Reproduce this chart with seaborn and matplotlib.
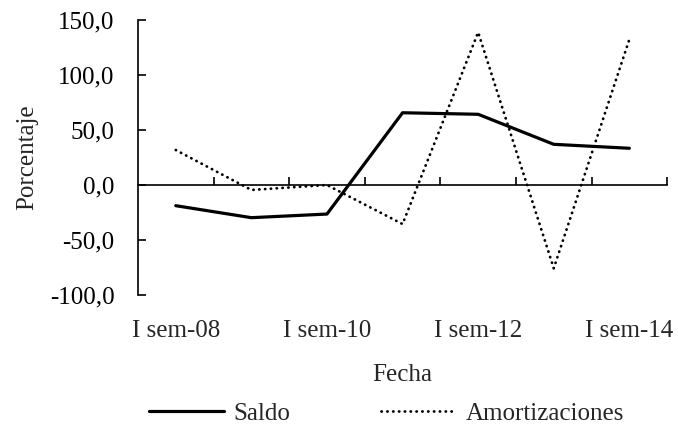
import matplotlib
matplotlib.use("Agg")
import matplotlib.pyplot as plt
import pandas as pd
import seaborn as sns

# Semestres (uno por año), se rotulan uno de cada dos
categories = ["I sem-08", "I sem-09", "I sem-10", "I sem-11", "I sem-12", "I sem-13", "I sem-14"]
saldo = [-18.8, -29.7, -26.4, 65.7, 64.3, 37.0, 33.4]
amortizaciones = [31.8, -4.5, 0.0, -35.5, 138.8, -75.7, 132.4]
y_ticks = [-100, -50, 0, 50, 100, 150]
y_tick_labels = ["-100,0", "-50,0", "0,0", "50,0", "100,0", "150,0"]

sns.set_theme(style="white")
plt.rcParams["font.family"] = ["Liberation Serif", "DejaVu Serif"]
FS = 18

df = pd.DataFrame({"pos": range(len(categories)), "Saldo": saldo, "Amortizaciones": amortizaciones})

fig = plt.figure(figsize=(6.78, 4.26), dpi=100)
ax = fig.add_axes([0.2035, 0.3075, 0.7805, 0.6455])

sns.lineplot(data=df, x="pos", y="Saldo", ax=ax, color="black", linewidth=2.3, label="Saldo")
sns.lineplot(data=df, x="pos", y="Amortizaciones", ax=ax, color="black", linewidth=2.0,
             linestyle=(0, (0.1, 2.0)), dash_capstyle="round", label="Amortizaciones")

n = len(categories)
ax.set_xlim(-0.5, n - 0.5)
ax.set_ylim(-100, 150)

# eje y
ax.set_yticks(y_ticks)
ax.set_yticklabels(y_tick_labels)
ax.tick_params(axis="y", left=True, direction="in", length=6, width=1.2, pad=17,
               labelsize=FS, colors="black")
ax.set_ylabel("Porcentaje", fontsize=FS, labelpad=8)

# línea del cero con marcas entre categorías
ax.spines["bottom"].set_position(("data", 0))
ax.spines["top"].set_visible(False)
ax.spines["right"].set_visible(False)
for side in ["left", "bottom"]:
    ax.spines[side].set_color("black")
    ax.spines[side].set_linewidth(1.2)
ax.set_xticks([i + 0.5 for i in range(n)])
ax.set_xticklabels([])
ax.tick_params(axis="x", bottom=True, direction="in", length=6, width=1.2, colors="black")
ax.set_xlabel("")

# rótulos de fecha al pie del gráfico
sec = ax.secondary_xaxis("bottom")
sec.spines["bottom"].set_visible(False)
sec.set_xticks(list(range(0, n, 2)))
sec.set_xticklabels(categories[::2])
sec.tick_params(length=0, pad=18, labelsize=FS)
sec.set_xlabel("Fecha", fontsize=FS, labelpad=16)

ax.get_legend().remove()
handles, labels = ax.get_legend_handles_labels()
fig.legend(handles, labels, loc="lower center", ncol=2, frameon=False, fontsize=FS,
           handlelength=3.0, handletextpad=0.4, columnspacing=3.6,
           bbox_to_anchor=(0.57, -0.05))

fig.savefig("out.png", dpi=100)
